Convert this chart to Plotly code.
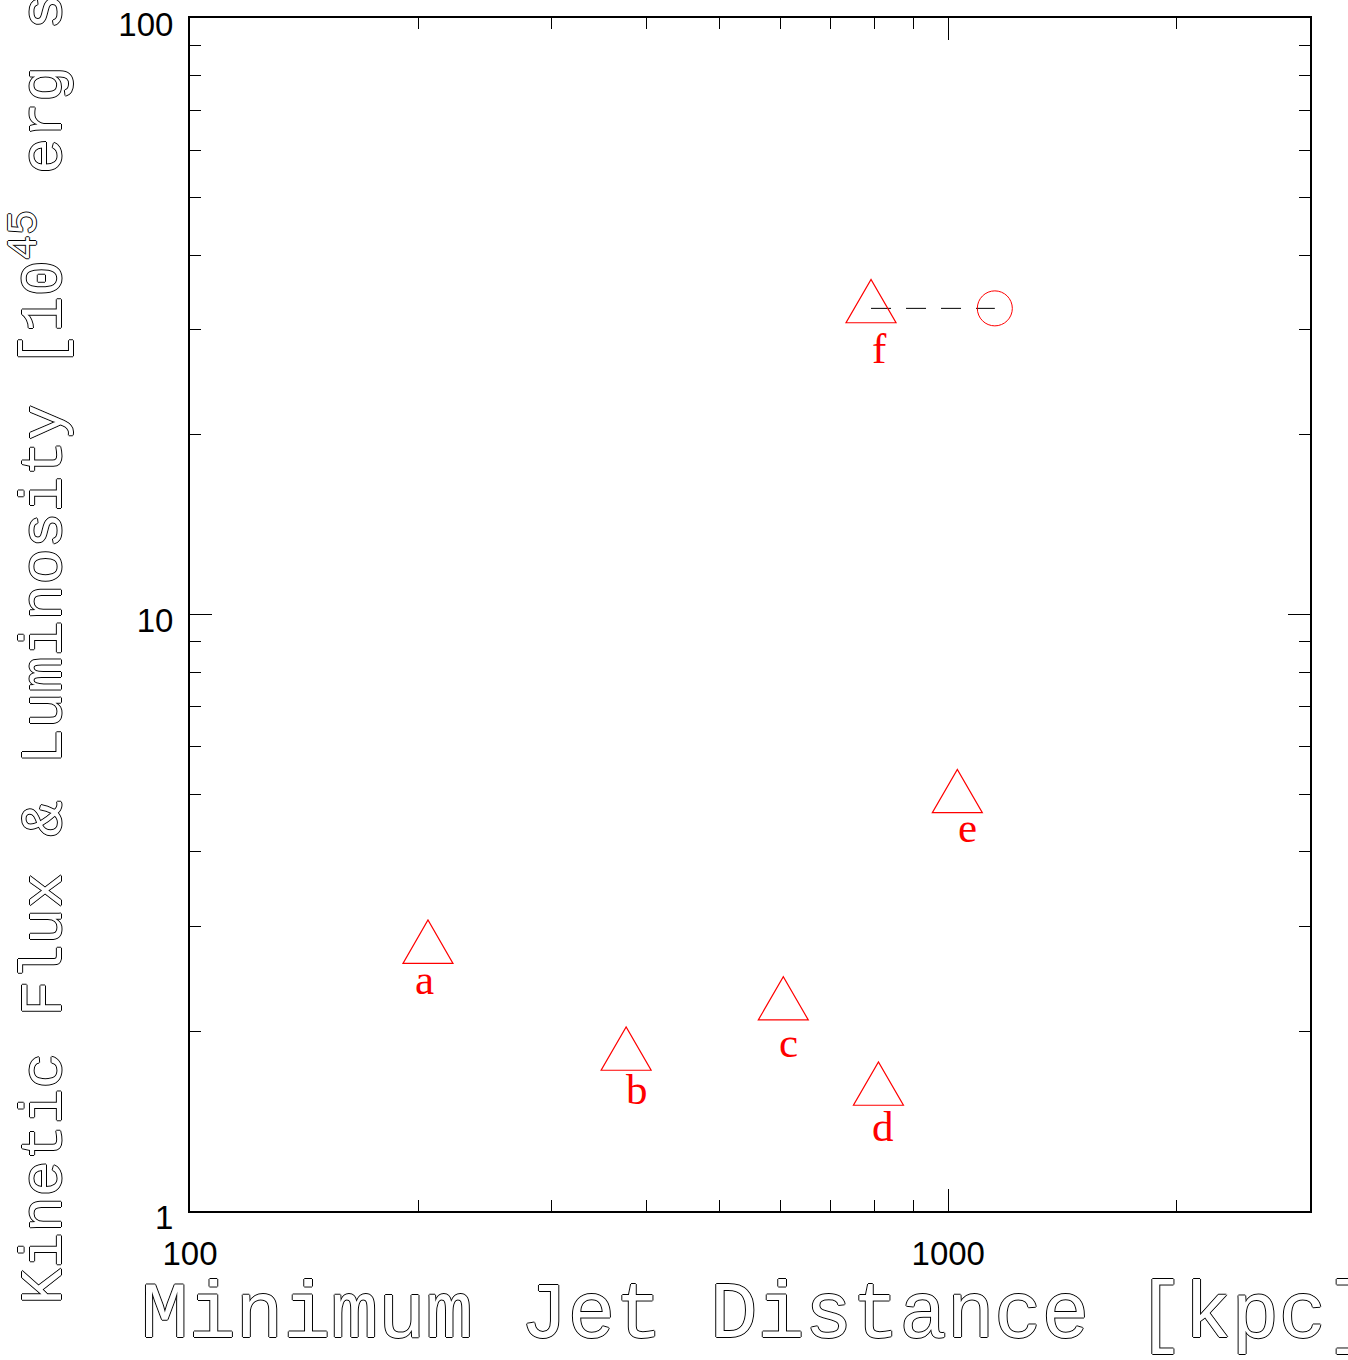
import numpy as np
import plotly.graph_objects as go

# Jet knots: minimum jet distance (kpc) vs kinetic flux (10^45 erg/s)
jet_labels = ["a", "b", "c", "d", "e", "f"]
min_distance_kpc = [206, 376, 606, 809, 1028, 791]
kinetic_flux = [2.75, 1.82, 2.21, 1.59, 4.92, 32.6]

# Luminosity counterpart of knot f (open circle joined by a dashed line)
lum_distance_kpc = [1152]
lum_value = [32.6]

# Axis ticks
x_major = [100, 1000]
x_minor = [200, 300, 400, 500, 600, 700, 800, 900, 2000, 3000]
y_major = [1, 10, 100]
y_minor = [2, 3, 4, 5, 6, 7, 8, 9, 20, 30, 40, 50, 60, 70, 80, 90]

# Pixel nudges of the letter labels placed under each triangle
label_dx = [-3, 11, 5, 5, 10, 8]
label_dy = [-5, -8, -11, -10, -4, -15]

RED = "#ff0000"
title_font_x = dict(family="Liberation Mono, Courier New, monospace", size=79,
                    color="white",
                    shadow="1px 0 0 #000, -1px 0 0 #000, 0 1px 0 #000, 0 -1px 0 #000")
title_font_y = dict(title_font_x, size=60)

fig = go.Figure()

# dashed connector between knot f and its luminosity point
fig.add_trace(go.Scatter(
    x=[min_distance_kpc[5], lum_distance_kpc[0]],
    y=[kinetic_flux[5], lum_value[0]],
    mode="lines", line=dict(color="black", width=1, dash="20px,15px"),
    hoverinfo="skip", showlegend=False))

fig.add_trace(go.Scatter(
    x=lum_distance_kpc, y=lum_value, mode="markers",
    marker=dict(symbol="circle-open", size=35, color=RED, line=dict(width=1, color=RED)),
    showlegend=False))

# invisible carrier for hover on the triangle points
fig.add_trace(go.Scatter(
    x=min_distance_kpc, y=kinetic_flux, mode="markers", text=jet_labels,
    marker=dict(size=30, color="rgba(0,0,0,0)"), showlegend=False))

# equilateral open triangles centred (centroid) on each point
tri_path = "M -25,-14.4 L 25,-14.4 L 0,28.9 Z"
for xv, yv in zip(min_distance_kpc, kinetic_flux):
    fig.add_shape(type="path", xref="x", yref="y",
                  xsizemode="pixel", ysizemode="pixel",
                  xanchor=xv, yanchor=yv, path=tri_path,
                  line=dict(color=RED, width=1.2), fillcolor="rgba(0,0,0,0)")

for lab, xv, yv, dx, dy in zip(jet_labels, min_distance_kpc, kinetic_flux,
                               label_dx, label_dy):
    fig.add_annotation(x=np.log10(xv), y=np.log10(yv), xref="x", yref="y",
                       text=lab, showarrow=False, xanchor="center", yanchor="top",
                       xshift=dx, yshift=dy,
                       font=dict(family="Liberation Serif, Times New Roman, serif",
                                 size=43, color=RED))

# axis titles
fig.add_annotation(x=0, y=0, xref="paper", yref="paper",
                   text="Minimum Jet Distance [kpc]", showarrow=False,
                   xanchor="left", yanchor="middle", xshift=-51, yshift=-105,
                   font=title_font_x)
fig.add_annotation(x=0, y=0, xref="paper", yref="paper",
                   text="Kinetic Flux & Luminosity [10<sup>45</sup> erg s<sup>-1</sup>]",
                   showarrow=False, textangle=-90,
                   xanchor="center", yanchor="bottom", xshift=-151, yshift=-96,
                   font=title_font_y)

tick_font = dict(family="Liberation Sans, Arial, sans-serif", size=33, color="black")
common = dict(showgrid=False, zeroline=False, showline=True, linecolor="black",
              linewidth=2, mirror="allticks", ticks="inside", ticklen=22,
              tickwidth=1, tickcolor="black", tickfont=tick_font, automargin=False)

fig.update_xaxes(type="log", range=[2, np.log10(3000)],
                 tickmode="array", tickvals=x_major,
                 ticktext=[str(v) for v in x_major],
                 minor=dict(tickmode="array", tickvals=x_minor, ticks="inside",
                            ticklen=11, tickwidth=1, tickcolor="black", showgrid=False),
                 ticklabelstandoff=12, **common)
fig.update_yaxes(type="log", range=[0, 2],
                 tickmode="array", tickvals=y_major,
                 ticktext=[str(v) for v in y_major],
                 minor=dict(tickmode="array", tickvals=y_minor, ticks="inside",
                            ticklen=11, tickwidth=1, tickcolor="black", showgrid=False),
                 ticklabelstandoff=8, ticklabelshift=6, ticklabeloverflow="allow",
                 **common)

fig.update_layout(width=1348, height=1360, autosize=False,
                  margin=dict(l=190, r=38, t=18, b=149, pad=0, autoexpand=False),
                  paper_bgcolor="white", plot_bgcolor="white",
                  showlegend=False)

fig.write_html("out.html")
